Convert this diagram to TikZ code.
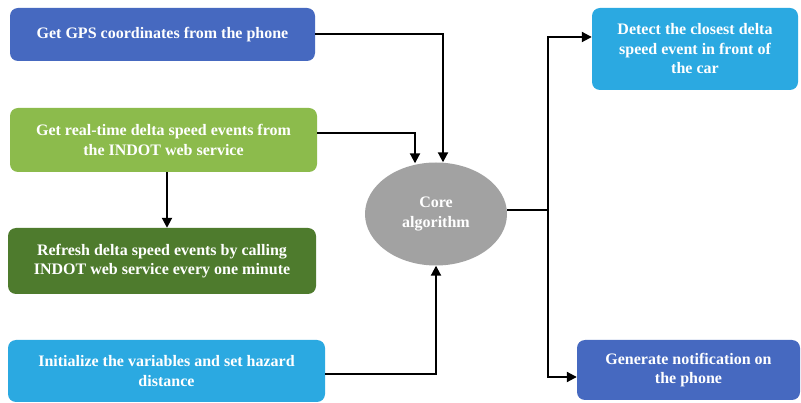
\documentclass[tikz,border=0pt]{standalone}
\usepackage{fontspec}
\setmainfont{Liberation Serif}
\usetikzlibrary{arrows.meta,shapes.geometric}
\definecolor{cblue}{HTML}{4669C0}
\definecolor{lgreen}{HTML}{8CBB4C}
\definecolor{dgreen}{HTML}{4E7B2D}
\definecolor{lblue}{HTML}{2BA9E1}
\definecolor{cgray}{HTML}{A2A2A2}
\begin{document}
\begin{tikzpicture}[x=1pt,y=-1pt,
  box/.style={rounded corners=8pt,text=white,font=\fontsize{16}{19.5}\selectfont\bfseries,align=center,inner sep=0pt},
  conn/.style={line width=2pt,-{Triangle[length=10pt,width=10pt]}},
  plain/.style={line width=2pt}]
\useasboundingbox (0,0) rectangle (801,403);
\fill[white] (0,0) rectangle (801,403);
% boxes
\node[box,fill=cblue,minimum width=305pt,minimum height=53pt] (gps) at (162.5,34.5) {Get GPS coordinates from the phone};
\node[box,fill=lgreen,minimum width=307pt,minimum height=64pt] (rt) at (163.5,140) {Get real-time delta speed events from\\the INDOT web service};
\node[box,fill=dgreen,minimum width=308pt,minimum height=66pt] (ref) at (162,261) {Refresh delta speed events by calling\\INDOT web service every one minute};
\node[box,fill=lblue,minimum width=317pt,minimum height=62pt] (init) at (166.5,371) {Initialize the variables and set hazard\\distance};
\node[box,fill=lblue,minimum width=206pt,minimum height=82pt] (det) at (695,49) {Detect the closest delta\\speed event in front of\\the car};
\node[box,fill=cblue,minimum width=223pt,minimum height=60pt] (gen) at (688.5,370) {Generate notification on\\the phone};
\node[ellipse,fill=cgray,text=white,font=\fontsize{16}{19.5}\selectfont\bfseries,align=center,minimum width=142pt,minimum height=103pt,inner sep=0pt] (core) at (436,214) {Core\\algorithm};
% helper coordinates
\coordinate (ct1) at (443,0);
\coordinate (ct2) at (415,0);
\coordinate (cb) at (436,0);
\coordinate (split) at (548,210);
% connectors
\draw[conn] (gps.east) -| (core.north -| ct1);
\draw[conn] (rt.east |- 0,133) -| ([yshift=-1pt]core.north -| ct2);
\draw[conn] (rt.south -| 167,0) -- (ref.north -| 167,0);
\draw[conn] (init.east |- 0,374) -| (core.south -| cb);
\draw[plain] (core.east |- split) -- (split);
\draw[conn] (split) |- (det.west |- 0,37);
\draw[conn] (split) |- (gen.west |- 0,377);
\end{tikzpicture}
\end{document}
